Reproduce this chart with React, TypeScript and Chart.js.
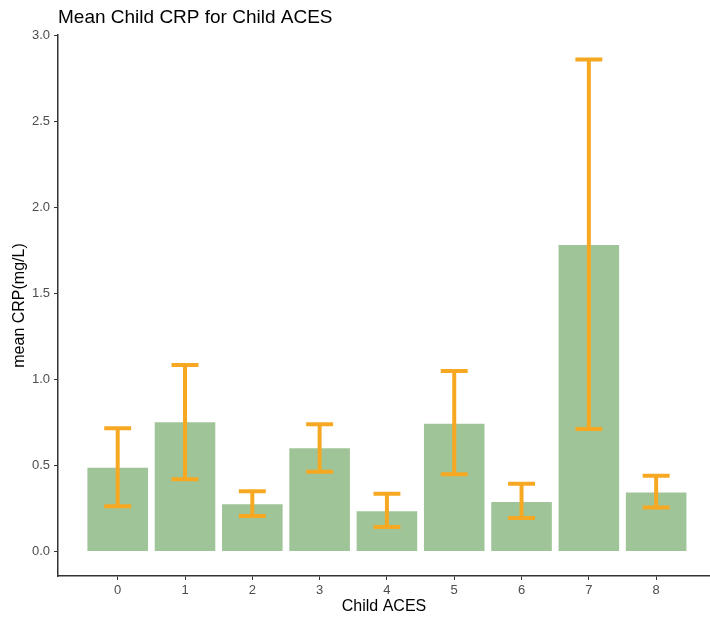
import React, { useEffect, useRef } from "react";
import { Chart, registerables } from "chart.js";

Chart.register(...registerables);

// Child ACE score categories
const aceScores = [0, 1, 2, 3, 4, 5, 6, 7, 8];
// Mean CRP (mg/L) per ACE score
const meanCrp = [0.486, 0.751, 0.274, 0.6, 0.233, 0.743, 0.288, 1.782, 0.343];
// Error bar limits
const lowerCrp = [0.263, 0.419, 0.206, 0.463, 0.142, 0.448, 0.194, 0.712, 0.255];
const upperCrp = [0.716, 1.084, 0.35, 0.74, 0.335, 1.049, 0.393, 2.86, 0.44];
// Axis tick values
const yTicks = [0, 0.5, 1, 1.5, 2, 2.5, 3];
const xTicks = aceScores;

const FONT = "'Liberation Sans', Arial, Helvetica, sans-serif";
const BAR_COLOR = "#9fc497";
const ERR_COLOR = "#f7a823";
const CAP_HALF = 0.2; // in x-axis units

const errorBarPlugin = {
  id: "errorBars",
  afterDatasetsDraw(chart: any) {
    const { ctx, scales } = chart;
    const xs = scales.x;
    const ys = scales.y;
    ctx.save();
    ctx.strokeStyle = ERR_COLOR;
    ctx.lineWidth = 4;
    ctx.lineCap = "butt";
    aceScores.forEach((a, i) => {
      const x = xs.getPixelForValue(a);
      const xl = xs.getPixelForValue(a - CAP_HALF);
      const xr = xs.getPixelForValue(a + CAP_HALF);
      const yl = ys.getPixelForValue(lowerCrp[i]);
      const yu = ys.getPixelForValue(upperCrp[i]);
      ctx.beginPath();
      ctx.moveTo(x, yl);
      ctx.lineTo(x, yu);
      ctx.moveTo(xl, yl);
      ctx.lineTo(xr, yl);
      ctx.moveTo(xl, yu);
      ctx.lineTo(xr, yu);
      ctx.stroke();
    });
    ctx.restore();
  },
};

export default function App() {
  const canvasRef = useRef<HTMLCanvasElement | null>(null);

  useEffect(() => {
    if (!canvasRef.current) return;
    const chart = new Chart(canvasRef.current, {
      type: "bar",
      data: {
        datasets: [
          {
            data: aceScores.map((a, i) => ({ x: a, y: meanCrp[i] })),
            backgroundColor: BAR_COLOR,
            borderWidth: 0,
            barPercentage: 0.9,
            categoryPercentage: 1,
          },
        ],
      },
      options: {
        animation: false,
        responsive: false,
        layout: { padding: 0 },
        plugins: {
          legend: { display: false },
          tooltip: { enabled: false },
          title: {
            display: true,
            text: "Mean Child CRP for Child ACES",
            align: "start",
            fullSize: false,
            color: "#000",
            font: { family: FONT, size: 19, weight: "normal" },
            padding: { top: 6, bottom: 6.2 },
          },
        },
        scales: {
          x: {
            type: "linear",
            offset: false,
            min: -0.887,
            max: 8.8,
            afterBuildTicks: (s: any) => {
              s.ticks = xTicks.map((v) => ({ value: v }));
            },
            afterFit: (s: any) => {
              s.height = 42;
            },
            grid: {
              offset: false,
              drawOnChartArea: false,
              drawTicks: true,
              tickLength: 4,
              color: "#333",
            },
            border: { display: true, color: "#333", width: 1.5 },
            ticks: {
              color: "#4d4d4d",
              font: { family: FONT, size: 13 },
              padding: 3,
              maxRotation: 0,
              autoSkip: false,
              callback: (v: any) => String(v),
            },
            title: {
              display: true,
              text: "Child ACES",
              color: "#000",
              font: { family: FONT, size: 16 },
              padding: { top: 0, bottom: 2 },
            },
          },
          y: {
            type: "linear",
            min: -0.143,
            max: 3.003,
            afterBuildTicks: (s: any) => {
              s.ticks = yTicks.map((v) => ({ value: v }));
            },
            afterFit: (s: any) => {
              s.width = 58;
            },
            grid: {
              drawOnChartArea: false,
              drawTicks: true,
              tickLength: 4,
              color: "#333",
            },
            border: { display: true, color: "#333", width: 1.5 },
            ticks: {
              color: "#4d4d4d",
              font: { family: FONT, size: 13 },
              padding: 4,
              callback: (v: any) => Number(v).toFixed(1),
            },
            title: {
              display: true,
              text: "mean CRP(mg/L)",
              color: "#000",
              font: { family: FONT, size: 16 },
              padding: { top: 10.4, bottom: 0 },
            },
          },
        },
      },
      plugins: [errorBarPlugin],
    });
    return () => chart.destroy();
  }, []);

  return (
    <div
      style={{
        position: "fixed",
        left: 0,
        top: 0,
        width: 710,
        height: 618,
        background: "#fff",
      }}
    >
      <canvas ref={canvasRef} width={710} height={618} />
    </div>
  );
}
